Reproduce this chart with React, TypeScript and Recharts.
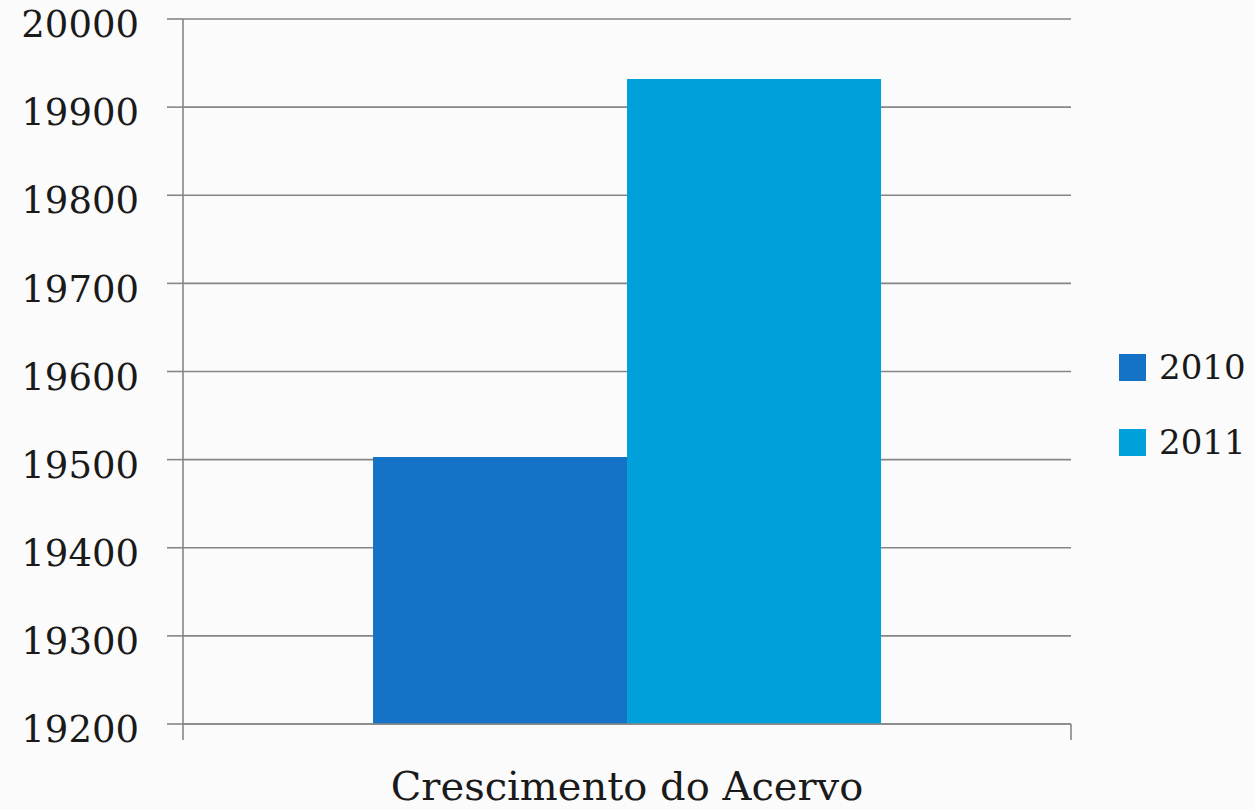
import { BarChart, Bar, XAxis, YAxis, CartesianGrid, Legend } from 'recharts';

const categories = ['Crescimento do Acervo'];
const values2010 = [19503];
const values2011 = [19932];
const yTicks = [19200, 19300, 19400, 19500, 19600, 19700, 19800, 19900, 20000];
const seriesNames = ['2010', '2011'];
const seriesColors = ['#1473c7', '#00a1da'];

const data = categories.map((name, i) => ({
	name,
	[seriesNames[0]]: values2010[i],
	[seriesNames[1]]: values2011[i],
}));

const FONT = '"DejaVu Serif", "Liberation Serif", serif';
const GRID = '#868686';

// tick for the category: the label and the two small marks at the band edges
const XTick = (props: any) => {
	const { x, y, payload } = props;
	const half = payload && payload.offset ? payload.offset : 444;
	return (
		<g>
			<line x1={x - half} x2={x - half} y1={y} y2={y + 16} stroke={GRID} strokeWidth={1.6} />
			<line x1={x + half} x2={x + half} y1={y} y2={y + 16} stroke={GRID} strokeWidth={1.6} />
			<text x={x} y={y + 76} textAnchor="middle" fill="#1a1a1a" fontSize={40} fontFamily={FONT}>
				{payload.value}
			</text>
		</g>
	);
};

const LegendBox = () => (
	<div style={{ width: 183, paddingLeft: 48, boxSizing: 'border-box', fontFamily: FONT }}>
		{seriesNames.map((n, i) => (
			<div key={n} style={{ height: 75, display: 'flex', alignItems: 'center' }}>
				<span style={{ width: 27, height: 27, background: seriesColors[i], display: 'inline-block', marginRight: 13 }} />
				<span style={{ fontSize: 34, color: '#1a1a1a' }}>{n}</span>
			</div>
		))}
	</div>
);

export default function App() {
	return (
		<div style={{ position: 'absolute', left: 0, top: 0, background: '#fbfbfb' }}>
			<BarChart
				width={1254}
				height={809}
				data={data}
				margin={{ top: 19, right: 0, bottom: 0, left: 0 }}
				barCategoryGap="21.4%"
				barGap={0}
			>
				<CartesianGrid vertical={false} stroke={GRID} strokeWidth={1.6} />
				<XAxis
					dataKey="name"
					height={85}
					tickLine={false}
					tickSize={0}
					tickMargin={0}
					axisLine={{ stroke: GRID, strokeWidth: 1.6 }}
					tick={<XTick />}
				/>
				<YAxis
					width={183}
					domain={[19200, 20000]}
					ticks={yTicks}
					interval={0}
					tickSize={16}
					tickMargin={28}
					axisLine={{ stroke: GRID, strokeWidth: 1.6 }}
					tickLine={{ stroke: GRID, strokeWidth: 1.6 }}
					tick={{ fill: '#1a1a1a', fontSize: 37, fontFamily: FONT, dy: 5 }}
				/>
				<Legend layout="vertical" align="right" verticalAlign="middle" content={<LegendBox />} />
				<Bar dataKey={seriesNames[0]} fill={seriesColors[0]} isAnimationActive={false} />
				<Bar dataKey={seriesNames[1]} fill={seriesColors[1]} isAnimationActive={false} />
			</BarChart>
		</div>
	);
}
